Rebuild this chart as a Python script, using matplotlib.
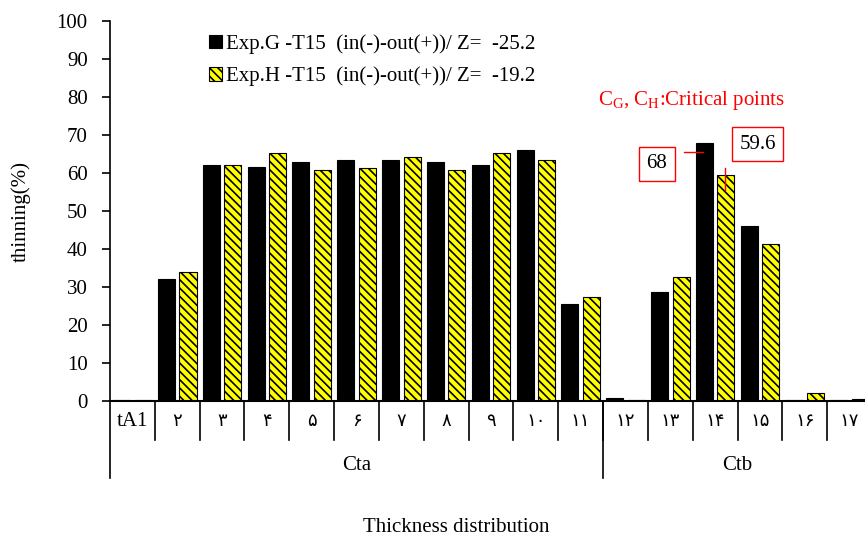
import matplotlib
matplotlib.use("Agg")
import matplotlib.pyplot as plt
import matplotlib.transforms as mtransforms
import numpy as np

plt.rcParams['font.family'] = ['Liberation Serif', 'DejaVu Sans']
plt.rcParams['hatch.linewidth'] = 1.2

categories = ['tA1', '۲', '۳', '۴', '۵', '۶', '۷', '۸', '۹', '۱۰', '۱۱',
              '۱۲', '۱۳', '۱۴', '۱۵', '۱۶', '۱۷']
exp_g = [0.3, 32.0, 62.0, 61.5, 62.8, 63.4, 63.4, 62.8, 62.2, 66.0, 25.5,
         0.7, 28.8, 68.0, 46.0, 0.2, 0.3]
exp_h = [0.3, 34.0, 62.0, 65.3, 60.7, 61.4, 64.2, 60.7, 65.3, 63.4, 27.4,
         0.3, 32.7, 59.6, 41.4, 2.0, 0.4]
groups = ['Cta', 'Ctb']
group_sizes = [11, 6]
label_g = 'Exp.G -T15  (in(-)-out(+))/ Z=  -25.2'
label_h = 'Exp.H -T15  (in(-)-out(+))/ Z=  -19.2'

FS = 15

fig = plt.figure(figsize=(8.65, 5.38), dpi=100)
ax = fig.add_axes([110/865, 137/538, 762/865, 380/538])

x = np.arange(len(categories))
w = 0.38
ax.bar(x - 0.24, exp_g, w, color='black', edgecolor='black', linewidth=0.8,
       label=label_g)
ax.bar(x + 0.24, exp_h, w, color='#ffff00', edgecolor='black', linewidth=0.8,
       hatch='\\\\\\\\', label=label_h)

ax.set_xlim(-0.5, len(categories) - 0.5)
ax.set_ylim(0, 100)
ax.set_yticks(np.arange(0, 101, 10))
ax.tick_params(axis='y', direction='out', length=6, width=1.2, labelsize=FS,
               pad=10)
ax.set_xticks([])
for s in ['top', 'right']:
    ax.spines[s].set_visible(False)
ax.spines['left'].set_linewidth(1.2)
ax.spines['bottom'].set_linewidth(1.5)

trans = mtransforms.blended_transform_factory(ax.transData, ax.transAxes)
# category separators
for i in range(1, len(categories)):
    ax.plot([i - 0.5, i - 0.5], [0, -0.1026], color='black', lw=1.2,
            transform=trans, clip_on=False)
for i, c in enumerate(categories):
    ax.text(i, -0.053, c, transform=trans, ha='center', va='center',
            fontsize=FS if i == 0 else FS - 2)
# group separators
start = 0
bounds = [0]
for gs in group_sizes:
    start += gs
    bounds.append(start)
for b in bounds[:-1]:
    ax.plot([b - 0.5, b - 0.5], [0, -0.2026], color='black', lw=1.2,
            transform=trans, clip_on=False)
for gi, g in enumerate(groups):
    cx = (bounds[gi] + bounds[gi + 1] - 1) / 2
    ax.text(cx, -0.171, g, transform=trans, ha='center', va='center',
            fontsize=FS)

ax.set_ylabel('thinning(%)', fontsize=FS)
ax.yaxis.set_label_coords(-0.104, 0.5)
fig.text(456/865, 1 - 527/538, 'Thickness distribution', ha='center',
         va='center', fontsize=FS)

leg = ax.legend(loc='upper left', bbox_to_anchor=(0.13, 0.965), frameon=False,
                fontsize=FS, handlelength=0.6, handleheight=0.6,
                handletextpad=0.2, labelspacing=0.6, borderpad=0,
                borderaxespad=0)

# annotations
ax.text(598, 538 - 100, r'C$_\mathregular{G}$, C$_\mathregular{H}$:Critical points',
        transform=None, color='red', fontsize=FS, va='center', ha='left')
ax.text(11.70, 62.4, '68', ha='center', va='center', fontsize=FS,
        bbox=dict(boxstyle='square,pad=0.35', fc='white', ec='red', lw=1))
ax.plot([12.31, 12.73], [65.5, 65.5], color='red', lw=1)
ax.text(13.95, 67.6, '59.6', ha='center', va='center', fontsize=FS,
        bbox=dict(boxstyle='square,pad=0.35', fc='white', ec='red', lw=1))
ax.plot([13.22, 13.22], [61.3, 55.5], color='red', lw=1)

fig.savefig('out.png', dpi=100)
